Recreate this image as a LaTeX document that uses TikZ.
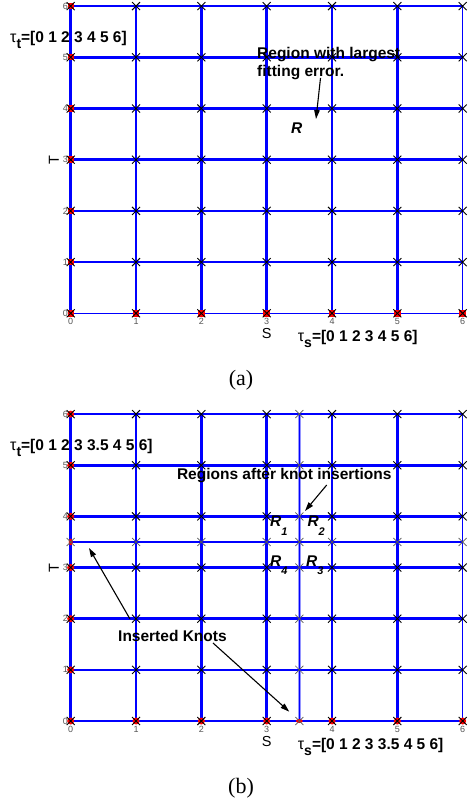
\documentclass[tikz,border=0pt]{standalone}
\usepackage{fontspec}
\setmainfont{Liberation Sans}
\newfontfamily\capfont{Liberation Serif}
\usetikzlibrary{arrows.meta}
\definecolor{mblue}{RGB}{0,0,255}
\definecolor{lblue}{RGB}{150,150,255}
\definecolor{ticktext}{RGB}{85,85,85}
\newcommand\tausub[1]{{\mdseries\fontsize{16}{16}\selectfont τ}\raisebox{-6.5pt}{\fontsize{14}{14}\selectfont #1}}
\newcommand\rsub[1]{R\raisebox{-8.3pt}{\fontsize{11}{11}\selectfont #1}}
\tikzset{
  knotline/.style={draw=mblue},
  insline/.style={draw=lblue, line width=2.6pt},
  inscore/.style={draw=mblue, line width=0.8pt},
  xmark/.style={draw=black, line width=0.9pt},
  xmarkgray/.style={draw=black!65, line width=0.7pt},
  knotmark/.style={fill=red},
  lbl/.style={font=\fontsize{15.5}{19}\selectfont\bfseries, inner sep=0pt},
  rlbl/.style={font=\fontsize{15.5}{19}\selectfont\bfseries\itshape, inner sep=0pt},
  ticklbl/.style={font=\fontsize{9}{9}\selectfont, text=ticktext, inner sep=0pt},
  axislbl/.style={font=\fontsize{14.5}{14.5}\selectfont, inner sep=0pt},
  notearrow/.style={-{Triangle[length=9pt,width=5.5pt]}, line width=1.1pt, black},
  caplbl/.style={font=\capfont\fontsize{22}{22}\selectfont, inner sep=0pt},
}
\begin{document}
\begin{tikzpicture}[x=1pt,y=-1pt]
\useasboundingbox (0,0) rectangle (471,805);
\fill[white] (0,0) rectangle (471,805);

% ---------------- Panel (a) ----------------
\begin{scope}[shift={(70.7,313.3)}, x=65.33pt, y=51.2pt]
  \foreach \j/\w in {0/1.6,1/2.5,2/2.5,3/2.5,4/2.5,5/2.5,6/2.5}
    \draw[knotline, line width=\w pt] (0,\j) -- (6,\j);
  \foreach \i/\w in {0/2.5,1/2.5,2/2.5,3/2.5,4/2.5,5/2.5,6/1.3}
    \draw[knotline, line width=\w pt] (\i,0) -- (\i,6);
  \foreach \j in {0,...,6}
    \node[ticklbl, anchor=east] (a-tl-\j) at ([xshift=-2.5pt]0,\j) {\j};
  \foreach \i in {0,...,6}
    \node[ticklbl] (a-tb-\i) at ([yshift=-8pt]\i,0) {\i};
  \foreach \j in {0,...,6}
    \fill[knotmark] (0,\j) +(-3.2pt,-3.2pt) rectangle +(3.2pt,3.2pt);
  \foreach \i in {1,...,6}
    \fill[knotmark] (\i,0) +(-3.2pt,-3.2pt) rectangle +(3.2pt,3.2pt);
  \foreach \i in {0,...,6}
    \foreach \j in {0,...,6}
      \draw[xmark] (\i,\j) +(-4pt,-4pt) -- +(4pt,4pt) (\i,\j) +(-4pt,4pt) -- +(4pt,-4pt);
\end{scope}

\node[lbl, anchor=base west] (taut-a) at (10,42.5) {\tausub{t}=[0 1 2 3 4 5 6]};
\node[lbl, anchor=base west] (reg1) at (257,58.5) {Region with largest};
\node[lbl, anchor=base west] (reg2) at (257,77) {fitting error.};
\node[rlbl, anchor=base west] (R-a) at (291,134) {R};
\coordinate (arrA-s) at (320.5,78);
\coordinate (arrA-t) at (316,119);
\draw[notearrow] (arrA-s) -- (arrA-t);
\node[axislbl] (S-a) at (266.7,334) {S};
\node[axislbl, rotate=90] (T-a) at (53.8,160) {T};
\node[lbl, anchor=base west] (taus-a) at (297.7,341.3) {\tausub{s}=[0 1 2 3 4 5 6]};
\node[caplbl] (cap-a) at (241,380.3) {(a)};

% ---------------- Panel (b) ----------------
\begin{scope}[shift={(70.7,721)}, x=65.33pt, y=51.15pt]
  \draw[insline] (3.5,0) -- (3.5,6);
  \draw[insline] (0,3.5) -- (6,3.5);
  \draw[inscore] (3.5,0) -- (3.5,6);
  \draw[inscore, line width=1.3pt] (0,3.5) -- (6,3.5);
  \foreach \j/\w in {0/2.5,1/2.5,2/2.5,3/2.5,4/2.5,5/2.5,6/1.6}
    \draw[knotline, line width=\w pt] (0,\j) -- (6,\j);
  \foreach \i/\w in {0/2.5,1/2.5,2/2.5,3/2.5,4/2.5,5/2.5,6/1.3}
    \draw[knotline, line width=\w pt] (\i,0) -- (\i,6);
  \foreach \j in {0,...,6}
    \node[ticklbl, anchor=east] (b-tl-\j) at ([xshift=-2.5pt]0,\j) {\j};
  \foreach \i in {0,...,6}
    \node[ticklbl] (b-tb-\i) at ([yshift=-8pt]\i,0) {\i};
  \foreach \j in {0,...,6}
    \fill[knotmark] (0,\j) circle[radius=3.5pt];
  \foreach \i in {1,...,6}
    \fill[knotmark] (\i,0) circle[radius=3.5pt];
  \fill[knotmark] (0,3.5) ellipse[x radius=2pt, y radius=3.4pt];
  \fill[knotmark] (3.5,0) ellipse[x radius=3.4pt, y radius=2pt];
  \foreach \i in {0,1,2,3,4,5,6}
    \foreach \j in {0,1,2,3,4,5,6}
      \draw[xmark] (\i,\j) +(-4pt,-4pt) -- +(4pt,4pt) (\i,\j) +(-4pt,4pt) -- +(4pt,-4pt);
  \foreach \j in {0,1,2,3,3.5,4,5,6}
    \draw[xmarkgray] (3.5,\j) +(-4pt,-4pt) -- +(4pt,4pt) (3.5,\j) +(-4pt,4pt) -- +(4pt,-4pt);
  \foreach \i in {0,1,2,3,4,5,6}
    \draw[xmarkgray] (\i,3.5) +(-4pt,-4pt) -- +(4pt,4pt) (\i,3.5) +(-4pt,4pt) -- +(4pt,-4pt);
\end{scope}

\node[lbl, anchor=base west] (taut-b) at (10,450.3) {\tausub{t}=[0 1 2 3 3.5 4 5 6]};
\node[lbl, anchor=base east] (regs) at (391.7,479.5) {Regions after knot insertions};
\coordinate (arrB-s) at (326.7,485);
\coordinate (arrB-t) at (305,511);
\draw[notearrow] (arrB-s) -- (arrB-t);
\node[rlbl, anchor=base west] (R1) at (270,526.7) {\rsub{1}};
\node[rlbl, anchor=base west] (R2) at (307.3,526.7) {\rsub{2}};
\node[rlbl, anchor=base west] (R4) at (270,566) {\rsub{4}};
\node[rlbl, anchor=base west] (R3) at (306,566) {\rsub{3}};
\node[lbl, anchor=base west] (ins) at (118,641) {Inserted Knots};
\coordinate (arrC-s) at (130,619);
\coordinate (arrC-t) at (89,548);
\draw[notearrow] (arrC-s) -- (arrC-t);
\coordinate (arrD-s) at (213,643);
\coordinate (arrD-t) at (289.3,711.7);
\draw[notearrow] (arrD-s) -- (arrD-t);
\node[axislbl] (S-b) at (266.7,741.3) {S};
\node[axislbl, rotate=90] (T-b) at (53.8,568) {T};
\node[lbl, anchor=base west] (taus-b) at (297.7,749.3) {\tausub{s}=[0 1 2 3 3.5 4 5 6]};
\node[caplbl] (cap-b) at (241,788) {(b)};
\end{tikzpicture}
\end{document}
